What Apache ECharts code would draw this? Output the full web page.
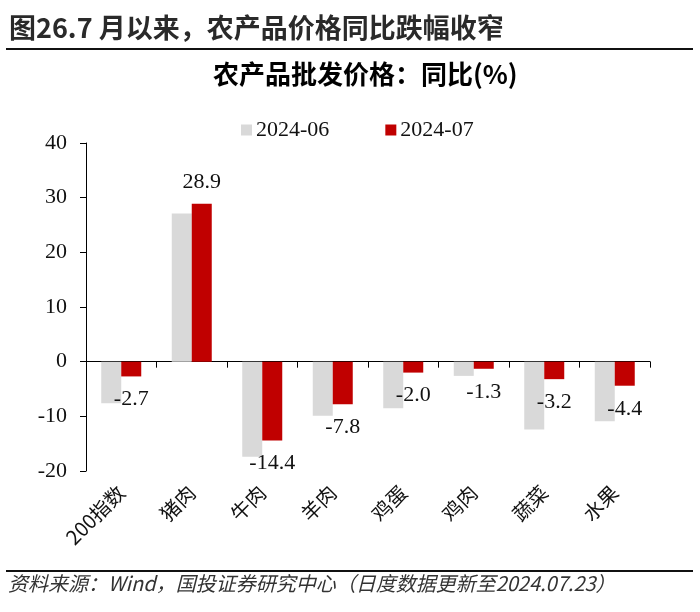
<!DOCTYPE html>
<html><head><meta charset="utf-8">
<script src="https://cdn.jsdelivr.net/npm/echarts@6/dist/echarts.min.js"></script>
<style>html,body{margin:0;padding:0;background:#fff}#c{width:700px;height:612px}</style>
</head><body><div id="c"></div>
<script>
var categories = ['200指数','猪肉','牛肉','羊肉','鸡蛋','鸡肉','蔬菜','水果'];
var seriesNames = ['2024-06','2024-07'];
var june = [-7.6, 27.1, -17.4, -9.9, -8.5, -2.6, -12.4, -10.9];
var july = [-2.7, 28.9, -14.4, -7.8, -2.0, -1.3, -3.2, -4.4];
var yTicks = {min: -20, max: 40, interval: 10};

var chart = echarts.init(document.getElementById('c'), null, {renderer: 'canvas'});
var serif = '"Liberation Serif","Times New Roman",serif';
var cjk = '"Noto Sans CJK SC",sans-serif';
chart.setOption({
  backgroundColor: '#fff',
  animation: false,
  graphic: [
    {type: 'text', left: 9, top: 14, style: {text: '图26.7 月以来，农产品价格同比跌幅收窄', font: 'bold 27px ' + cjk, fill: '#2a2a2a'}},
    {type: 'rect', shape: {x: 6, y: 48, width: 687, height: 2}, style: {fill: '#111'}},
    {type: 'text', left: 213, top: 61, style: {text: '农产品批发价格：同比(%)', font: 'bold 26px ' + cjk, fill: '#000'}},
    {type: 'rect', shape: {x: 6, y: 570, width: 687, height: 2}, style: {fill: '#111'}},
    {type: 'text', left: 8, top: 573, style: {text: '资料来源：Wind，国投证券研究中心（日度数据更新至2024.07.23）', font: 'italic 20px ' + cjk, fill: '#333'}}
  ],
  legend: {
    top: 114, left: 236, itemWidth: 11, itemHeight: 11, itemGap: 56,
    icon: 'rect',
    textStyle: {fontFamily: serif, fontSize: 22, color: '#111', padding: [0, 0, 0, -1]},
    data: seriesNames
  },
  grid: {left: 86, right: 50, top: 143, bottom: 141, containLabel: false},
  xAxis: [
    {type: 'category', data: categories, position: 'bottom',
     axisLine: {onZero: true, lineStyle: {color: '#000', width: 1}},
     axisTick: {show: true, length: 6, inside: false, lineStyle: {color: '#000'}},
     axisLabel: {show: false}},
    {type: 'category', data: categories, position: 'bottom', offset: 0,
     axisLine: {show: false, onZero: false}, axisTick: {show: false},
     axisLabel: {rotate: 45, margin: 18, fontFamily: cjk, fontSize: 20, color: '#111'}}
  ],
  yAxis: {
    type: 'value', min: yTicks.min, max: yTicks.max, interval: yTicks.interval,
    splitLine: {show: false},
    axisLine: {show: true, lineStyle: {color: '#000'}},
    axisTick: {show: true, length: 6, lineStyle: {color: '#000'}},
    axisLabel: {fontFamily: serif, fontSize: 22, color: '#111', margin: 19}
  },
  series: [
    {name: seriesNames[0], type: 'bar', data: june, barWidth: 20, barGap: '0%',
     itemStyle: {color: '#D9D9D9'}},
    {name: seriesNames[1], type: 'bar', data: july.map(function(v){
        return {value: v, label: {position: v >= 0 ? 'top' : 'bottom', distance: v >= 0 ? 10 : 12}};
      }), barWidth: 20,
     itemStyle: {color: '#C00000'},
     label: {show: true, fontFamily: serif, fontSize: 22, color: '#111',
       formatter: function(p){ return p.value.toFixed(1); }}}
  ]
});
</script></body></html>
